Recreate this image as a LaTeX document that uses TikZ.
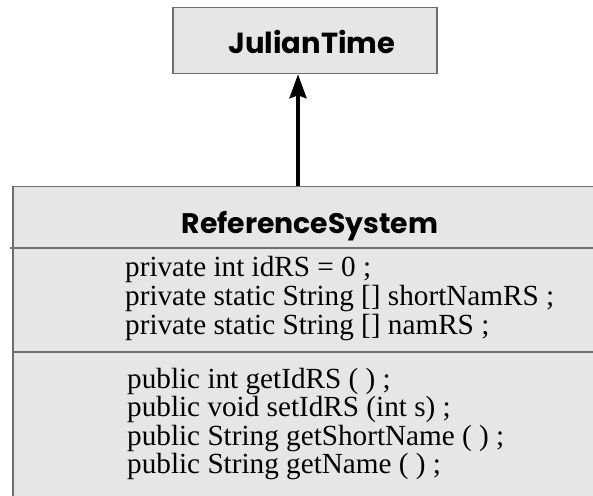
\documentclass[tikz,border=0pt]{standalone}
\usepackage{fontspec}
\setmainfont{Liberation Serif}
\newfontfamily\headfont{Poppins}
\usetikzlibrary{arrows.meta}
\definecolor{boxfill}{HTML}{E6E6E6}
\definecolor{boxline}{HTML}{6E6E6E}
\tikzset{
  umlbox/.style={draw=boxline, fill=boxfill, line width=1.6pt, inner sep=0pt},
  classtitle/.style={font=\headfont\bfseries\fontsize{29}{32}\selectfont, anchor=base, inner sep=0pt},
  member/.style={font=\fontsize{29.2}{31}\selectfont, anchor=base west, inner sep=0pt},
  divider/.style={draw=boxline, line width=1.6pt},
  inherit/.style={draw=black, line width=3.5pt, -{Stealth[length=24pt, width=17pt, inset=3pt]}}
}
\begin{document}
\begin{tikzpicture}[x=1pt, y=-1pt]
  \useasboundingbox (0,0) rectangle (593,495);
  \clip (0,0) rectangle (593,495);

  % superclass
  \node[umlbox, minimum width=264pt, minimum height=66pt] (jt) at (305,40.5) {};
  \node[classtitle] (jtname) at (312,53) {JulianTime};

  % class ReferenceSystem (runs past the right and bottom edges)
  \node[umlbox, anchor=north west, minimum width=620pt, minimum height=340pt] (rs) at (12,185.7) {};
  \node[classtitle, font=\headfont\bfseries\fontsize{28.3}{31}\selectfont] (rsname) at (310,233) {ReferenceSystem};
  \coordinate (hdl) at (10,248);
  \coordinate (hdr) at (600,248);
  \draw[divider] (hdl) -- (hdr);
  \coordinate (sepl) at (12,352);
  \coordinate (sepr) at (600,352);
  \draw[divider] (sepl) -- (sepr);

  % attributes
  \node[member] (a1) at (125,276.7) {private int idRS = 0 ;};
  \node[member] (a2) at (125,305.5) {private static String [] shortNamRS ;};
  \node[member] (a3) at (125,334) {private static String [] namRS ;};

  % operations
  \node[member] (m1) at (127,388) {public int getIdRS ( ) ;};
  \node[member] (m2) at (127,416.5) {public void setIdRS (int s) ;};
  \node[member] (m3) at (127,445) {public String getShortName ( ) ;};
  \node[member] (m4) at (127,473.5) {public String getName ( ) ;};

  % generalisation arrow
  \coordinate (axis) at (298,0);
  \draw[inherit] (rs.north -| axis) -- (jt.south -| axis);
\end{tikzpicture}
\end{document}
